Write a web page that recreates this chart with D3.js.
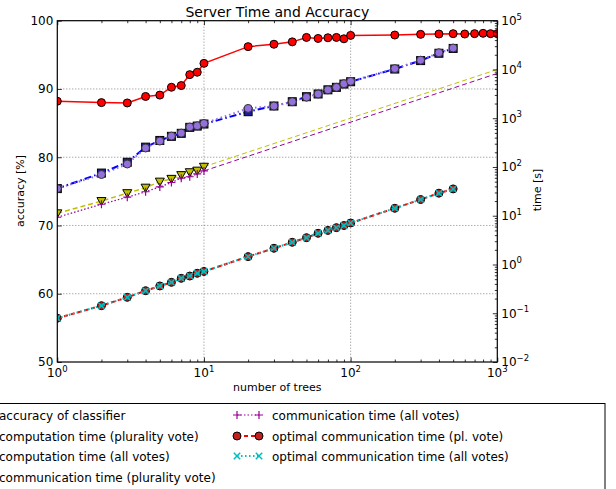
<!DOCTYPE html>
<html>
<head>
<meta charset="utf-8">
<script src="https://cdn.jsdelivr.net/npm/d3@7"></script>
<style>
  body { margin: 0; background: #fff; }
  text { font-family: "DejaVu Sans", sans-serif; fill: #000; }
</style>
</head>
<body>
<div id="chart"></div>
<script>
// values
var nTrees = [1,2,3,4,5,6,7,8,9,10,20,30,40,50,60,70,80,90,100,200,300,400,500,600,700,800,900,1000];
var accuracy = [88.2,88.0,87.95,88.9,89.1,90.25,90.5,92.1,92.45,93.75,96.2,96.55,96.9,97.55,97.4,97.5,97.55,97.35,97.85,97.9,98.0,98.05,98.1,98.05,98.1,98.15,98.1,98.1];

var nTreesTimed = [1,2,3,4,5,6,7,8,9,10,20,30,40,50,60,70,80,90,100,200,300,400,500];
var compPlurality = [36,75,125,255,350,425,490,650,690,760,1360,1780,2180,2760,3140,3820,4300,5020,5600,10200,15200,21500,27000];
var compAll = [36,70,115,245,340,430,495,660,700,780,1590,1780,2180,2700,3140,3820,4300,5100,5700,10400,15500,22000,27500];

var nTreesComm = [1,2,3,4,5,6,7,8,9,10];
var commPlurality = [11.2,20,29,37.6,50,57,68,78,84,101];
var commAll = [9.3,17.2,24,31,39,48,59,63,72,83];
var nTreesTrend = [10,1000];
var commPluralityTrend = [101,10000];
var commAllTrend = [83,8300];

var optPlurality = [0.079,0.143,0.212,0.29,0.363,0.43,0.52,0.58,0.66,0.72,1.45,2.15,2.85,3.55,4.36,5.0,5.7,6.3,7.1,14.2,21.5,29,35.5];
var optAll = [0.079,0.143,0.212,0.29,0.363,0.43,0.52,0.58,0.66,0.72,1.45,2.15,2.85,3.55,4.36,5.0,5.7,6.3,7.1,14.2,21.5,29,35.5];

var accuracyTicks = [50,60,70,80,90,100];
var timeExponents = [-2,-1,0,1,2,3,4,5];
var treeExponents = [0,1,2,3];

var legendLeft = ["accuracy of classifier", "computation time (plurality vote)", "computation time (all votes)", "communication time (plurality vote)"];
var legendRight = ["communication time (all votes)", "optimal communication time (pl. vote)", "optimal communication time (all votes)"];

var width = 616, height = 489;
var plotLeft = 57.3, plotRight = 497.3, plotTop = 20.7, plotBottom = 362;

var svg = d3.select("#chart")
  .append("svg")
    .attr("width", width)
    .attr("height", height);

var x = d3.scaleLog().domain([1, 1000]).range([plotLeft, plotRight]);
var yAcc = d3.scaleLinear().domain([50, 100]).range([plotBottom, plotTop]);
var yTime = d3.scaleLog().domain([1e-2, 1e5]).range([plotBottom, plotTop]);

svg.append("clipPath").attr("id", "plotclip")
  .append("rect")
    .attr("x", plotLeft).attr("y", plotTop)
    .attr("width", plotRight - plotLeft).attr("height", plotBottom - plotTop);

// dotted grid
var grid = svg.append("g")
  .attr("stroke", "#555").attr("stroke-width", 0.7).attr("stroke-dasharray", "1,2");
grid.selectAll(".gx").data([10, 100]).enter().append("line")
  .attr("x1", d => x(d)).attr("x2", d => x(d))
  .attr("y1", plotTop).attr("y2", plotBottom);
grid.selectAll(".gy").data(accuracyTicks.slice(1, -1)).enter().append("line")
  .attr("x1", plotLeft).attr("x2", plotRight)
  .attr("y1", d => yAcc(d)).attr("y2", d => yAcc(d));

var plot = svg.append("g").attr("clip-path", "url(#plotclip)");

// marker helpers
function marker(g, type, fill, stroke, sw) {
  if (type == "circle") {
    g.append("circle").attr("r", 4).attr("fill", fill).attr("stroke", stroke).attr("stroke-width", sw);
  } else if (type == "square") {
    g.append("rect").attr("x", -4).attr("y", -4).attr("width", 8).attr("height", 8)
      .attr("fill", fill).attr("stroke", stroke).attr("stroke-width", sw);
  } else if (type == "tri") {
    g.append("path").attr("d", "M-4.5,-3.5L4.5,-3.5L0,4.5Z")
      .attr("fill", fill).attr("stroke", stroke).attr("stroke-width", sw);
  } else if (type == "plus") {
    g.append("path").attr("d", "M-4,0H4M0,-4V4").attr("fill", "none").attr("stroke", stroke).attr("stroke-width", sw);
  } else if (type == "x") {
    g.append("path").attr("d", "M-3.2,-3.2L3.2,3.2M-3.2,3.2L3.2,-3.2").attr("fill", "none").attr("stroke", stroke).attr("stroke-width", sw);
  }
}

function series(xs, ys, yScale, s) {
  var line = d3.line()
    .x((d, i) => x(xs[i]))
    .y(d => yScale(d));
  plot.append("path")
    .datum(ys)
    .attr("d", line)
    .attr("fill", "none")
    .attr("stroke", s.color)
    .attr("stroke-width", s.width)
    .attr("stroke-dasharray", s.dash);
  if (s.marker) {
    plot.selectAll(null)
      .data(ys)
      .enter()
      .append("g")
      .attr("transform", (d, i) => "translate(" + x(xs[i]) + "," + yScale(d) + ")")
      .each(function() { marker(d3.select(this), s.marker, s.fill, s.edge, s.edgeWidth); });
  }
}

var styles = {
  acc: { color: "#ff0000", width: 1.5, dash: null, marker: "circle", fill: "#ff0000", edge: "#000", edgeWidth: 1 },
  compPl: { color: "#0000ff", width: 2, dash: "7,3,1.5,3", marker: "square", fill: "#1a1aa8", edge: "#000", edgeWidth: 1 },
  compAll: { color: "#9370db", width: 2, dash: "1.5,3", marker: "circle", fill: "#9370db", edge: "#333", edgeWidth: 1 },
  commPl: { color: "#bfbf00", width: 1.5, dash: "5,3", marker: "tri", fill: "#bfbf00", edge: "#000", edgeWidth: 1 },
  commAll: { color: "#990099", width: 1.2, dash: "1.5,2", marker: "plus", fill: "none", edge: "#990099", edgeWidth: 1.2 },
  optPl: { color: "#ff0000", width: 2, dash: "4,3", marker: "circle", fill: "#c02020", edge: "#000", edgeWidth: 1 },
  optAll: { color: "#00bfbf", width: 2, dash: "1.5,2.5", marker: "x", fill: "none", edge: "#00bfbf", edgeWidth: 1.5 }
};

series(nTreesTrend, commPluralityTrend, yTime, { color: "#bfbf00", width: 1, dash: "5,3" });
series(nTreesTrend, commAllTrend, yTime, { color: "#990099", width: 1, dash: "5,3" });
series(nTrees, accuracy, yAcc, styles.acc);
series(nTreesTimed, compPlurality, yTime, styles.compPl);
series(nTreesTimed, compAll, yTime, styles.compAll);
series(nTreesComm, commPlurality, yTime, styles.commPl);
series(nTreesComm, commAll, yTime, styles.commAll);
series(nTreesTimed, optPlurality, yTime, styles.optPl);
series(nTreesTimed, optAll, yTime, styles.optAll);

// ticks pointing inward
function ticks(axis, pos, size) {
  var g = svg.append("g").attr("transform", pos).call(axis.tickSize(size).tickFormat(""));
  g.select(".domain").remove();
  g.selectAll("line").attr("stroke", "#000").attr("stroke-width", 0.8);
}
var xMajor = treeExponents.map(e => Math.pow(10, e));
var xMinor = x.ticks().filter(d => xMajor.indexOf(d) < 0);
var tMajor = timeExponents.map(e => Math.pow(10, e));
var tMinor = yTime.ticks().filter(d => tMajor.indexOf(d) < 0 && d > 1e-2 && d < 1e5);

ticks(d3.axisBottom(x).tickValues(xMajor), "translate(0," + plotBottom + ")", -4.5);
ticks(d3.axisBottom(x).tickValues(xMinor), "translate(0," + plotBottom + ")", -2.5);
ticks(d3.axisTop(x).tickValues(xMajor), "translate(0," + plotTop + ")", -4.5);
ticks(d3.axisTop(x).tickValues(xMinor), "translate(0," + plotTop + ")", -2.5);
ticks(d3.axisLeft(yAcc).tickValues(accuracyTicks), "translate(" + plotLeft + ",0)", -4.5);
ticks(d3.axisRight(yTime).tickValues(tMajor), "translate(" + plotRight + ",0)", -4.5);
ticks(d3.axisRight(yTime).tickValues(tMinor), "translate(" + plotRight + ",0)", -2.5);

// frame
svg.append("rect")
  .attr("x", plotLeft).attr("y", plotTop)
  .attr("width", plotRight - plotLeft).attr("height", plotBottom - plotTop)
  .attr("fill", "none").attr("stroke", "#000").attr("stroke-width", 1.2);

// tick labels
svg.selectAll(".accLabel").data(accuracyTicks).enter().append("text")
  .attr("x", plotLeft - 4).attr("y", d => yAcc(d) + 4.4)
  .attr("text-anchor", "end").attr("font-size", 12)
  .text(d => d);

function powLabel(sel) {
  sel.append("tspan").text("10");
  sel.append("tspan").attr("dy", -5.5).attr("font-size", 8.5).text(e => e < 0 ? "\u2212" + (-e) : e);
}
svg.selectAll(".xLabel").data(treeExponents).enter().append("text")
  .attr("x", e => x(Math.pow(10, e))).attr("y", 377)
  .attr("text-anchor", "middle").attr("font-size", 12)
  .call(powLabel);
svg.selectAll(".tLabel").data(timeExponents).enter().append("text")
  .attr("x", plotRight + 4).attr("y", e => yTime(Math.pow(10, e)) + 4.4)
  .attr("font-size", 12)
  .call(powLabel);

// titles
svg.append("text").attr("x", (plotLeft + plotRight) / 2).attr("y", 16.5)
  .attr("text-anchor", "middle").attr("font-size", 14).text("Server Time and Accuracy");
svg.append("text").attr("x", (plotLeft + plotRight) / 2).attr("y", 391)
  .attr("text-anchor", "middle").attr("font-size", 11).text("number of trees");
svg.append("text").attr("transform", "translate(24,191) rotate(-90)")
  .attr("text-anchor", "middle").attr("font-size", 11).text("accuracy [%]");
svg.append("text").attr("transform", "translate(541,190) rotate(-90)")
  .attr("text-anchor", "middle").attr("font-size", 11).text("time [s]");

// legend (its left part falls off the page, as in the original)
var legend = svg.append("g");
legend.append("rect")
  .attr("x", -60).attr("y", 403.5).attr("width", 665).attr("height", 120)
  .attr("fill", "#fff").attr("stroke", "#000").attr("stroke-width", 1);

var rowY = [415, 436, 456, 477];
var leftKeys = ["acc", "compPl", "compAll", "commPl"];
var rightKeys = ["commAll", "optPl", "optAll"];

function legendEntry(key, label, mx, tx, cy) {
  var s = styles[key];
  legend.append("line")
    .attr("x1", mx).attr("x2", mx + 22).attr("y1", cy).attr("y2", cy)
    .attr("stroke", s.color).attr("stroke-width", s.width).attr("stroke-dasharray", s.dash);
  [mx, mx + 22].forEach(function(px) {
    var g = legend.append("g").attr("transform", "translate(" + px + "," + cy + ")");
    marker(g, s.marker, s.fill, s.edge, s.edgeWidth);
  });
  legend.append("text").attr("x", tx).attr("y", cy + 4.5).attr("font-size", 12).text(label);
}
legendLeft.forEach((label, i) => legendEntry(leftKeys[i], label, -38, -1, rowY[i]));
legendRight.forEach((label, i) => legendEntry(rightKeys[i], label, 237, 272, rowY[i]));
</script>
</body>
</html>
